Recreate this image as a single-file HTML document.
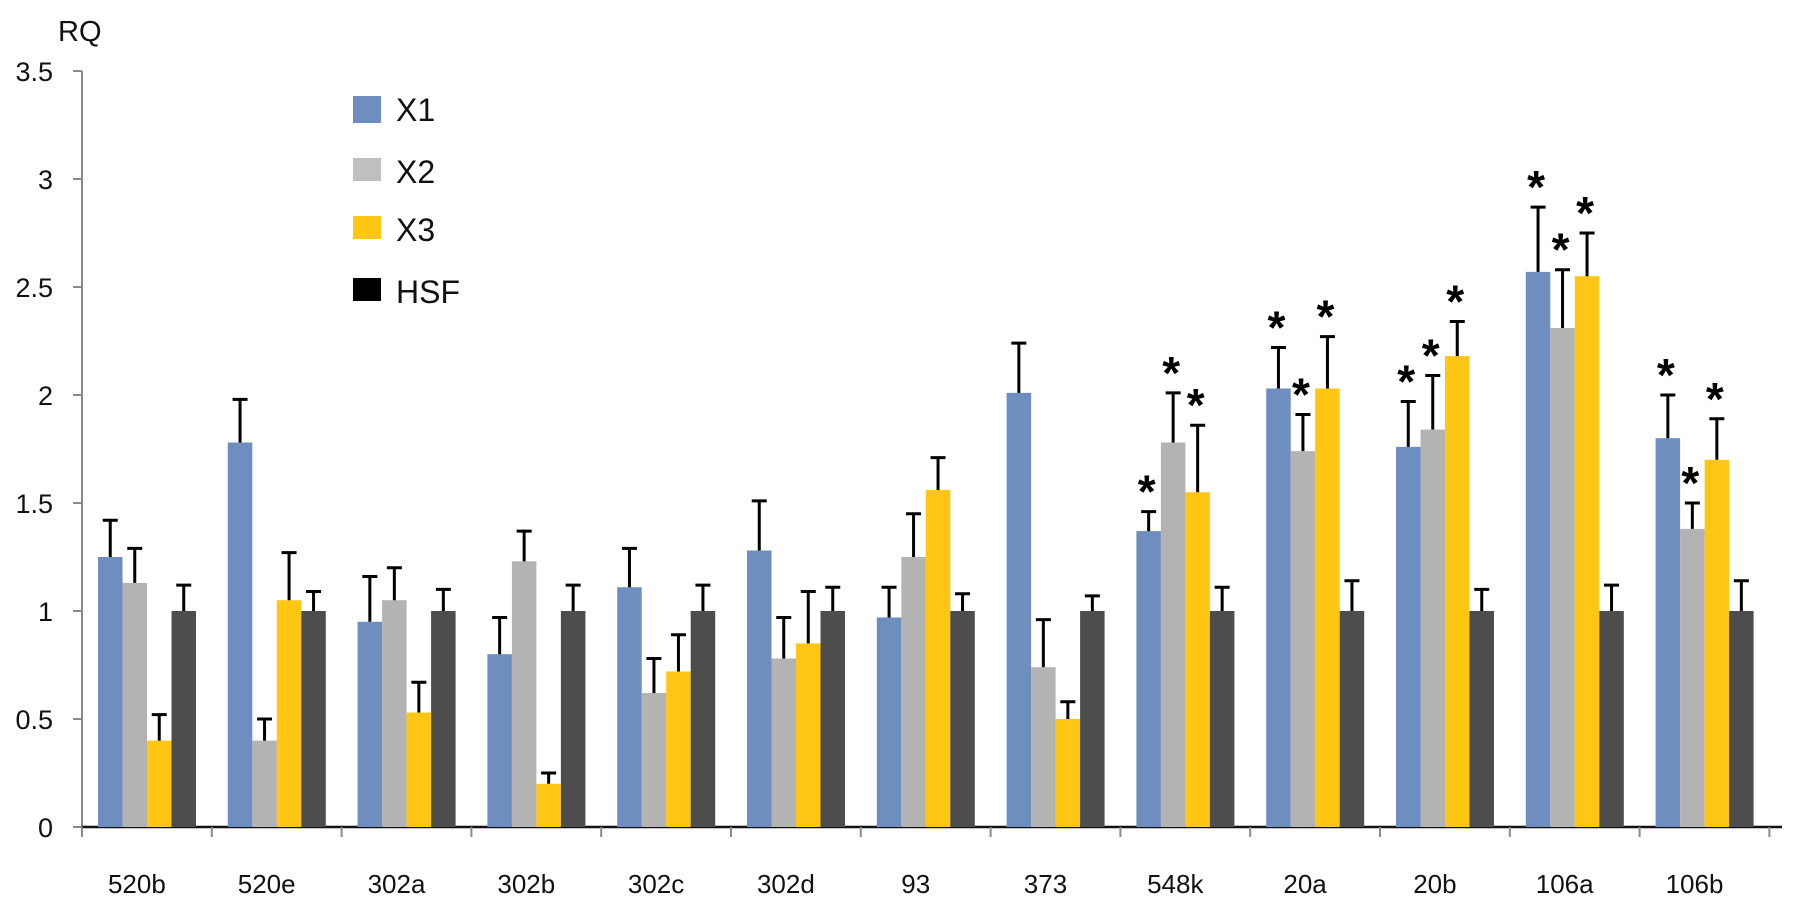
<!DOCTYPE html>
<html><head><meta charset="utf-8"><style>
html,body{margin:0;padding:0;background:#fff;}
svg{display:block;font-family:"Liberation Sans","DejaVu Sans",sans-serif;}
</style></head><body>
<svg id="chart" width="1795" height="905" viewBox="0 0 1795 905">
<text x="58" y="41" font-size="29" fill="#111">RQ</text>
<g id="legend"></g>
<g id="axes"></g>
<g id="bars"></g>
</svg>
<script>
const categories = ["520b","520e","302a","302b","302c","302d","93","373","548k","20a","20b","106a","106b"];
const seriesNames = ["X1","X2","X3","HSF"];
const x1Values = [1.25,1.78,0.95,0.80,1.11,1.28,0.97,2.01,1.37,2.03,1.76,2.57,1.80];
const x2Values = [1.13,0.40,1.05,1.23,0.62,0.78,1.25,0.74,1.78,1.74,1.84,2.31,1.38];
const x3Values = [0.40,1.05,0.53,0.20,0.72,0.85,1.56,0.50,1.55,2.03,2.18,2.55,1.70];
const hsfValues = [1,1,1,1,1,1,1,1,1,1,1,1,1];
const x1ErrTop = [1.42,1.98,1.16,0.97,1.29,1.51,1.11,2.24,1.46,2.22,1.97,2.87,2.00];
const x2ErrTop = [1.29,0.50,1.20,1.37,0.78,0.97,1.45,0.96,2.01,1.91,2.09,2.58,1.50];
const x3ErrTop = [0.52,1.27,0.67,0.25,0.89,1.09,1.71,0.58,1.86,2.27,2.34,2.75,1.89];
const hsfErrTop = [1.12,1.09,1.10,1.12,1.12,1.11,1.08,1.07,1.11,1.14,1.10,1.12,1.14];
const starFlags = [0,0,0,0,0,0,0,0,1,1,1,1,1];
const yTicks = [0,0.5,1,1.5,2,2.5,3,3.5];
const yTickLabels = ["0","0.5","1","1.5","2","2.5","3","3.5"];

const NS="http://www.w3.org/2000/svg";
const colors=["#6d8ebf","#b3b3b3","#ffc614","#4d4d4d"];
const values=[x1Values,x2Values,x3Values,hsfValues];
const errs=[x1ErrTop,x2ErrTop,x3ErrTop,hsfErrTop];
const x0=82, groupW=129.8, baseY=827, pxPerUnit=216;
const yScale=v=>baseY-v*pxPerUnit;
const xGroup=i=>x0+i*groupW;
const barW=24.5, barOff=16;
function mk(tag,attrs,parent){const e=document.createElementNS(NS,tag);for(const k in attrs)e.setAttribute(k,attrs[k]);parent.appendChild(e);return e;}
const axes=document.getElementById('axes'), bars=document.getElementById('bars'), legend=document.getElementById('legend');

let yl=mk('line',{x1:x0,y1:yScale(3.5),x2:x0,y2:baseY,stroke:'#8a8a8a','stroke-width':2},axes);


yTicks.forEach((t,i)=>{
  mk('line',{x1:x0-9,y1:yScale(t),x2:x0,y2:yScale(t),stroke:'#8a8a8a','stroke-width':2},axes);
  const tx=mk('text',{x:53,y:yScale(t)+10,'text-anchor':'end','font-size':27,fill:'#111'},axes);
  tx.textContent=yTickLabels[i];
  
  
});
let xl=mk('line',{x1:x0,y1:baseY,x2:1782,y2:baseY,stroke:'#111','stroke-width':2.5},axes);


for(let i=0;i<=categories.length;i++){
  mk('line',{x1:xGroup(i),y1:baseY,x2:xGroup(i),y2:baseY+10,stroke:'#8a8a8a','stroke-width':2},axes);
}
categories.forEach((c,i)=>{
  const tx=mk('text',{x:xGroup(i)+groupW/2-10,y:893,'text-anchor':'middle','font-size':26,fill:'#111'},axes);
  tx.textContent=c;
  
  
});
categories.forEach((c,i)=>{
  for(let s=0;s<4;s++){
    const v=values[s][i], bx=xGroup(i)+barOff+s*barW;
    const r=mk('rect',{x:bx,y:yScale(v),width:barW,height:baseY-yScale(v),fill:colors[s]},bars);
    
    
    const cx=bx+barW/2, ey=yScale(errs[s][i]);
    const eb=mk('path',{d:`M${cx},${yScale(v)}V${ey}M${cx-7.5},${ey}H${cx+7.5}`,stroke:'#000','stroke-width':3,fill:'none'},bars);
    
    
    if(starFlags[i]&&s<3){
      const st=mk('text',{x:cx-2,y:ey-4,'text-anchor':'middle','font-size':46,'font-weight':'bold',fill:'#000'},bars);
      st.textContent='*';
      
      
    }
  }
});
const legendColors=["#6d8ebf","#bfbfbf","#ffc614","#000"];
const legendY=[109,171,229,291];
seriesNames.forEach((n,s)=>{
  const sq=mk('rect',{x:353,y:legendY[s]-13,width:28,height:(s==0?27:23),fill:legendColors[s]},legend);
  
  
  const t=mk('text',{x:396,y:legendY[s]+12,'font-size':32,fill:'#111'},legend);
  t.textContent=n;
  
  
});
</script>
</body></html>
